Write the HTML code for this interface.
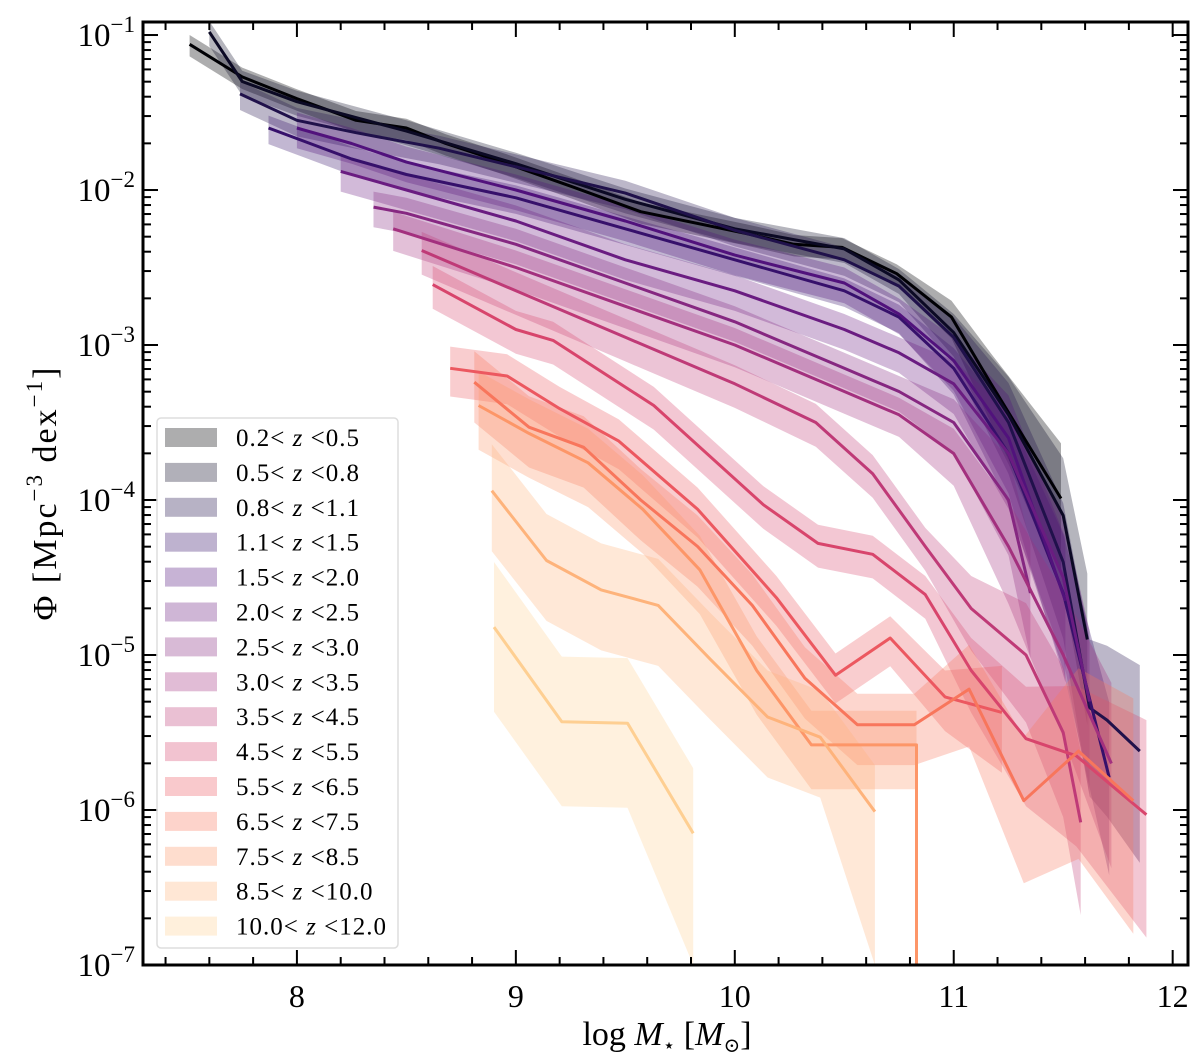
<!DOCTYPE html>
<html><head><meta charset="utf-8">
<style>
html,body{margin:0;padding:0;background:#fff;overflow:hidden;width:1200px;height:1063px;}
svg{display:block;}
text{font-family:"Liberation Serif","DejaVu Serif",serif;fill:#000;}
</style></head>
<body>
<svg id="chart" width="1200" height="1063" viewBox="0 0 1200 1063" xmlns="http://www.w3.org/2000/svg">
<defs><clipPath id="plotclip"><rect x="143" y="22" width="1045" height="943"/></clipPath></defs>
<g id="bands" clip-path="url(#plotclip)"></g>
<g id="lines" clip-path="url(#plotclip)"></g>
<g id="axes"></g>
<g id="legend"></g>
</svg>
<script>
const labels = ["0.2","0.5","0.8","1.1","1.5","2.0","2.5","3.0","3.5","4.5","5.5","6.5","7.5","8.5","10.0","12.0"];
const colors = ["#000004","#0b0924","#20114b","#36106b","#51127c","#6a1c81","#862781","#a3307e","#bf3a77","#d8456c","#ec5860","#f8765c","#fd9668","#feb37b","#fecf92"];
const m1 = [7.51,7.75,8.0,8.27,8.5,8.68,8.96,9.26,9.57,10.05,10.27,10.49,10.74,10.99,11.17,11.49];
const p1 = [-1.06,-1.27,-1.41,-1.55,-1.60,-1.70,-1.83,-1.98,-2.14,-2.28,-2.35,-2.37,-2.54,-2.82,-3.25,-3.99];
const m2 = [7.6,7.75,8.0,8.5,9.0,9.5,10.0,10.5,10.75,11.0,11.25,11.5,11.61];
const p2 = [-0.98,-1.30,-1.43,-1.62,-1.83,-2.06,-2.25,-2.38,-2.58,-2.92,-3.45,-4.1,-4.9];
const m3 = [7.74,8.0,8.27,8.65,9.0,9.5,10.0,10.5,10.75,11.0,11.25,11.5,11.62,11.7,11.85];
const p3 = [-1.38,-1.55,-1.63,-1.73,-1.85,-2.02,-2.26,-2.45,-2.62,-2.95,-3.5,-4.4,-5.34,-5.42,-5.62];
const m4 = [7.87,8.25,8.5,9.0,9.5,10.0,10.5,10.75,11.0,11.25,11.5,11.71];
const p4 = [-1.60,-1.80,-1.90,-2.05,-2.25,-2.45,-2.65,-2.82,-3.15,-3.7,-4.6,-5.79];
const m5 = [8.0,8.25,8.5,9.0,9.5,10.0,10.5,10.75,11.0,11.25,11.51];
const p5 = [-1.60,-1.70,-1.82,-2.0,-2.2,-2.42,-2.6,-2.8,-3.1,-3.6,-4.65];
const m6 = [8.2,8.5,9.0,9.5,10.0,10.5,10.75,11.0,11.25,11.5,11.62];
const p6 = [-1.88,-2.0,-2.2,-2.45,-2.65,-2.9,-3.05,-3.25,-3.7,-4.5,-5.3];
const m7 = [8.35,8.5,9.0,9.5,10.0,10.5,10.75,11.0,11.25,11.35];
const p7 = [-2.11,-2.15,-2.35,-2.6,-2.85,-3.15,-3.3,-3.5,-4.0,-4.6];
const m8 = [8.44,9.0,9.5,10.0,10.5,10.75,11.0,11.25,11.5,11.72];
const p8 = [-2.25,-2.5,-2.75,-3.0,-3.3,-3.45,-3.7,-4.3,-5.0,-5.7];
const m9 = [8.57,9.0,9.5,10.0,10.37,10.63,10.87,11.08,11.33,11.5,11.58];
const p9 = [-2.39,-2.65,-2.95,-3.25,-3.5,-3.83,-4.3,-4.7,-5.0,-5.5,-6.08];
const m10 = [8.62,9.0,9.17,9.63,10.13,10.38,10.63,10.87,11.08,11.33,11.56,11.88];
const p10 = [-2.61,-2.9,-2.97,-3.39,-4.03,-4.28,-4.35,-4.61,-5.1,-5.54,-5.65,-6.03];
const m11 = [8.70,8.96,9.2,9.47,9.83,10.19,10.46,10.71,10.96,11.22];
const p11 = [-3.15,-3.20,-3.41,-3.62,-4.06,-4.63,-5.13,-4.89,-5.27,-5.37];
const m12 = [8.81,9.06,9.31,9.57,9.83,10.08,10.32,10.56,10.82,11.07,11.32,11.57,11.82];
const p12 = [-3.24,-3.53,-3.66,-4.0,-4.30,-4.68,-5.15,-5.45,-5.45,-5.22,-5.94,-5.62,-5.94];
const m13 = [8.83,9.06,9.33,9.58,9.84,10.10,10.35,10.83,10.83];
const p13 = [-3.39,-3.57,-3.76,-4.06,-4.45,-5.10,-5.58,-5.58,-8.0];
const m14 = [8.89,9.14,9.39,9.65,9.89,10.15,10.39,10.64];
const p14 = [-3.94,-4.39,-4.58,-4.68,-5.03,-5.40,-5.53,-6.01];
const m15 = [8.90,9.21,9.51,9.81];
const p15 = [-4.82,-5.43,-5.44,-6.15];
const errs = [0.06,0.07,0.08,0.08,0.1,0.1,0.1,0.11,0.12,0.12,0.14,0.2,0.22,0.3,0.42];

const masses=[m1,m2,m3,m4,m5,m6,m7,m8,m9,m10,m11,m12,m13,m14,m15];
const phis=[p1,p2,p3,p4,p5,p6,p7,p8,p9,p10,p11,p12,p13,p14,p15];

const X0=143,X1=1188,Y0=22,Y1=965;
const xmin=7.297, xmax=12.07;
const ymax=-0.916, ymin=-7;
function xs(m){return X0+(m-xmin)/(xmax-xmin)*(X1-X0);}
function ys(l){return Y0+(ymax-l)/(ymax-ymin)*(Y1-Y0);}
const NS="http://www.w3.org/2000/svg";
function mk(tag,attrs,parent){const e=document.createElementNS(NS,tag);for(const k in attrs)e.setAttribute(k,attrs[k]);parent.appendChild(e);return e;}
const bands=document.getElementById('bands'), lines=document.getElementById('lines');

for(let i=0;i<masses.length;i++){
  const ms=masses[i], ps=phis[i];
  const up=[],lo=[];
  for(let j=0;j<ms.length;j++){
    const g=errs[i]+Math.max(0,ms[j]-10.9)*0.5;
    const isEnd=(i>=12 && j>=ms.length-1);
    up.push(xs(ms[j]).toFixed(1)+','+ys(ps[j]+g).toFixed(1));
    lo.unshift(xs(ms[j]).toFixed(1)+','+(isEnd?965:ys(ps[j]-g*1.3)).toFixed(1));
  }
  const b=mk('polygon',{points:up.concat(lo).join(' '),fill:colors[i],'fill-opacity':i===0?0.32:0.3},bands);
  
  
  const pts=ms.map((m,j)=>xs(m).toFixed(1)+','+Math.min(965,ys(ps[j])).toFixed(1)).join(' ');
  const l=mk('polyline',{points:pts,fill:'none',stroke:colors[i],'stroke-width':3,'stroke-linejoin':'round'},lines);
  
  
}

const ax=document.getElementById('axes');
mk('rect',{x:X0,y:Y0,width:X1-X0,height:Y1-Y0,fill:'none',stroke:'#000','stroke-width':3},ax);
for(let v=7.4;v<=12.05;v+=0.2){
  const r=Math.round(v*10)/10, x=xs(r), major=Math.abs(r-Math.round(r))<1e-6;
  const L=major?15:8;
  mk('line',{x1:x,y1:Y1,x2:x,y2:Y1-L,stroke:'#000','stroke-width':2},ax);
  mk('line',{x1:x,y1:Y0,x2:x,y2:Y0+L,stroke:'#000','stroke-width':2},ax);
  if(major){const t=mk('text',{x:x,y:1007,'font-size':32,'text-anchor':'middle'},ax);t.textContent=String(Math.round(r));
    
    }
}
for(let d=-7;d<=-1;d++){
  for(let k=1;k<=9;k++){
    const l=d+Math.log10(k); if(l>ymax) continue;
    const y=ys(l), L=k===1?15:8;
    mk('line',{x1:X0,y1:y,x2:X0+L,y2:y,stroke:'#000','stroke-width':2},ax);
    mk('line',{x1:X1,y1:y,x2:X1-L,y2:y,stroke:'#000','stroke-width':2},ax);
  }
  const t=mk('text',{x:135,y:ys(d)+11,'font-size':33,'text-anchor':'end'},ax);
  t.innerHTML='10<tspan dy="-14" font-size="23">−'+(-d)+'</tspan>';
  
  
}
const xt=mk('text',{x:667,y:1045,'font-size':34,'text-anchor':'middle'},ax);
xt.innerHTML='log <tspan font-style="italic">M</tspan><tspan font-size="20" dy="7">⋆</tspan><tspan dy="-7"> [</tspan><tspan font-style="italic">M</tspan><tspan font-size="20" dy="7">⊙</tspan><tspan dy="-7">]</tspan>';


const yt=mk('text',{x:0,y:0,'font-size':34,'letter-spacing':2,'text-anchor':'middle',transform:'translate(56,493) rotate(-90)'},ax);
yt.innerHTML='Φ [Mpc<tspan dy="-14" font-size="23">−3</tspan><tspan dy="14"> dex</tspan><tspan dy="-14" font-size="23">−1</tspan><tspan dy="14">]</tspan>';



const lg=document.getElementById('legend');
mk('rect',{x:157,y:418,width:241,height:530,rx:4,fill:'#fff','fill-opacity':0.8,stroke:'#ddd','stroke-width':1.5},lg);
for(let i=0;i<colors.length;i++){
  const y=428+i*34.9;
  const p=mk('rect',{x:165,y:y,width:52,height:19,fill:colors[i],'fill-opacity':0.32},lg);
  
  
  const t=mk('text',{x:236,y:y+18,'font-size':25,'letter-spacing':1},lg);
  t.innerHTML=labels[i]+'&lt; <tspan font-style="italic">z</tspan> &lt;'+labels[i+1];
  
  
}
</script>
</body></html>
